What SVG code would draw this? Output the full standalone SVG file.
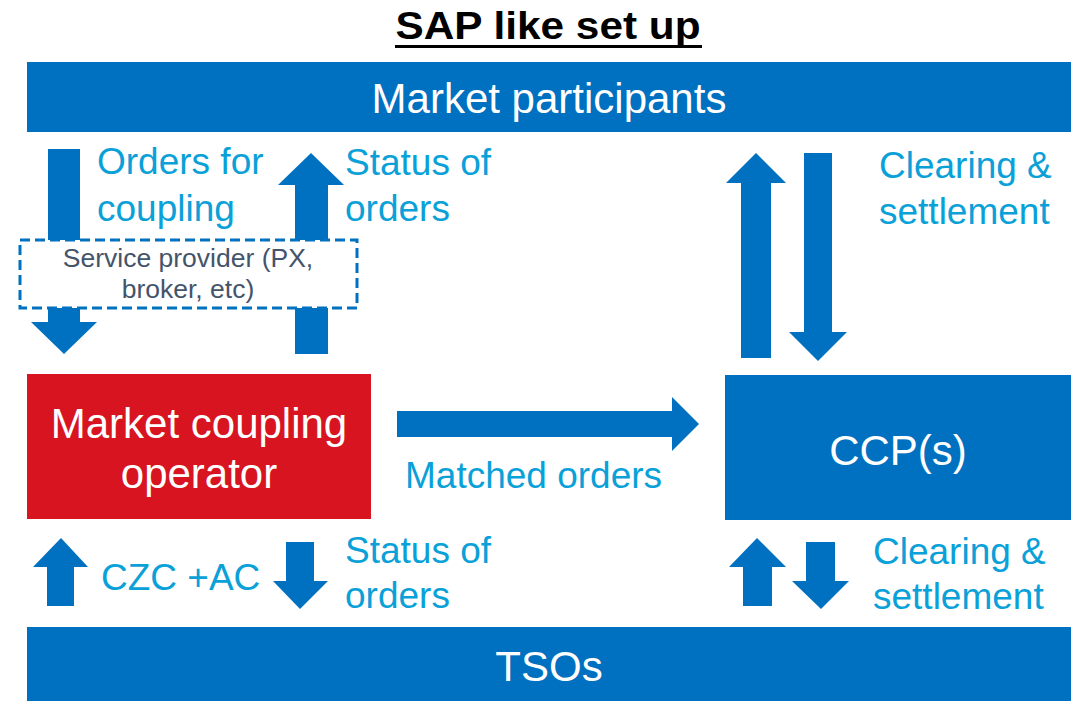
<svg xmlns="http://www.w3.org/2000/svg" width="1076" height="701" viewBox="0 0 1076 701">
<style>
.bar{fill:#0070C0}
.arr{fill:#0070C0}
.wt{fill:#FFFFFF;font-family:"Liberation Sans",Arial,sans-serif;text-anchor:middle}
.lb{fill:#0AA0D8;font-family:"Liberation Sans",Arial,sans-serif;font-size:37px}
.sp{fill:#44546A;font-family:"Liberation Sans",Arial,sans-serif;font-size:26.5px;text-anchor:middle}
</style>
<rect width="1076" height="701" fill="#FFFFFF"/>
<g id="title">
<text x="548" y="39" font-family="Liberation Sans,Arial,sans-serif" font-weight="bold" font-size="38" text-anchor="middle" textLength="305" lengthAdjust="spacingAndGlyphs" fill="#000000">SAP like set up</text>
<rect x="395" y="45" width="307" height="3" fill="#000000"/>
</g>
<g id="market-participants">
<rect class="bar" x="27" y="62" width="1044" height="70"/>
<text class="wt" x="549" y="113" font-size="42">Market participants</text>
</g>
<g id="tsos">
<rect class="bar" x="27" y="627" width="1044" height="74"/>
<text class="wt" x="549" y="681" font-size="42">TSOs</text>
</g>
<g id="mco">
<rect x="27" y="374" width="344" height="145" fill="#D7141F"/>
<text class="wt" x="199" y="438" font-size="42">Market coupling</text>
<text class="wt" x="199" y="488" font-size="42">operator</text>
</g>
<g id="ccp">
<rect class="bar" x="725" y="375" width="346" height="145"/>
<text class="wt" x="898" y="465" font-size="42">CCP(s)</text>
</g>
<g id="connectors">
<polygon class="arr" points="48,149 80,149 80,322 97,322 64,354 31,322 48,322"/>
<polygon class="arr" points="311,153 344,185 328,185 328,354 295,354 295,185 278,185"/>
<polygon class="arr" points="756,153 786,183 771,183 771,358 741,358 741,183 726,183"/>
<polygon class="arr" points="804,153 832,153 832,332 847,332 818,361 789,332 804,332"/>
<polygon class="arr" points="397,411 672,411 672,397 699,424 672,451 672,437 397,437"/>
<polygon class="arr" points="61,538 88,567 74,567 74,606 47,606 47,567 33,567"/>
<polygon class="arr" points="286,542 314,542 314,581 328,581 300,609 273,581 286,581"/>
<polygon class="arr" points="757,538 786,567 772,567 772,606 743,606 743,567 729,567"/>
<polygon class="arr" points="806,542 835,542 835,581 849,581 821,609 792,581 806,581"/>
</g>
<g id="service-provider">
<rect x="20" y="240" width="337" height="68" fill="#FFFFFF" stroke="#0070C0" stroke-width="3" stroke-dasharray="10,5"/>
<text class="sp" x="188" y="267">Service provider (PX,</text>
<text class="sp" x="188" y="298">broker, etc)</text>
</g>
<g id="labels">
<text class="lb" x="97" y="174">Orders for</text>
<text class="lb" x="97" y="221">coupling</text>
<text class="lb" x="345" y="175">Status of</text>
<text class="lb" x="345" y="221">orders</text>
<text class="lb" x="879" y="178">Clearing &amp;</text>
<text class="lb" x="879" y="224">settlement</text>
<text class="lb" x="405" y="488">Matched orders</text>
<text class="lb" x="101" y="590">CZC +AC</text>
<text class="lb" x="345" y="563">Status of</text>
<text class="lb" x="345" y="608">orders</text>
<text class="lb" x="873" y="564">Clearing &amp;</text>
<text class="lb" x="873" y="609">settlement</text>
</g>
</svg>
